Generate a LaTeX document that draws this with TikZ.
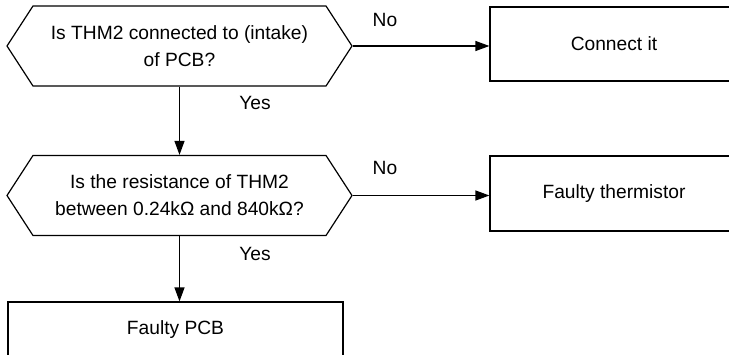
\documentclass[tikz,border=0pt]{standalone}
\usepackage{fontspec}
\setmainfont{Liberation Sans}
\usetikzlibrary{shapes.symbols,arrows.meta}
\tikzset{
  decision/.style={signal, signal to=west and east, signal pointer angle=114,
    draw, line width=0.6pt, inner sep=0pt, minimum width=172.5pt, minimum height=40pt,
    align=center},
  action/.style={rectangle, draw, line width=0.6pt, inner sep=0pt, align=center},
  answer/.style={inner sep=0pt},
}
\begin{document}
\begin{tikzpicture}[x=0.5pt,y=0.5pt,line width=0.6pt,>={Triangle[length=7pt,width=5pt]},
  font=\fontsize{9.6}{13.5}\selectfont]
\useasboundingbox (0,0) rectangle (729,354);
% questions
\node[decision] (q1) at (179.5,308) {Is THM2 connected to (intake)\\of PCB?};
\node[decision] (q2) at (179.5,158.5) {Is the resistance of THM2\\between 0.24kΩ and 840kΩ?};
% results
\node[action, minimum width=124pt, minimum height=37pt] (connect) at (614,310) {Connect it};
\node[action, minimum width=124pt, minimum height=37.5pt] (thermistor) at (614,160.5) {Faulty thermistor};
\node[action, minimum width=167.5pt, minimum height=28pt] (pcb) at (175.5,24) {Faulty PCB};
% arrows
\draw[->] (q1.east) -- (q1.east -| connect.west);
\draw[->] (q1.south) -- (q2.north);
\draw[->] (q2.east) -- (q2.east -| thermistor.west);
\draw[->] (q2.south) -- (q2.south |- pcb.north);
% labels
\node[answer] (no1) at (385,334) {No};
\node[answer] (yes1) at (255,251) {Yes};
\node[answer] (no2) at (385,186) {No};
\node[answer] (yes2) at (255,100) {Yes};
\end{tikzpicture}
\end{document}
